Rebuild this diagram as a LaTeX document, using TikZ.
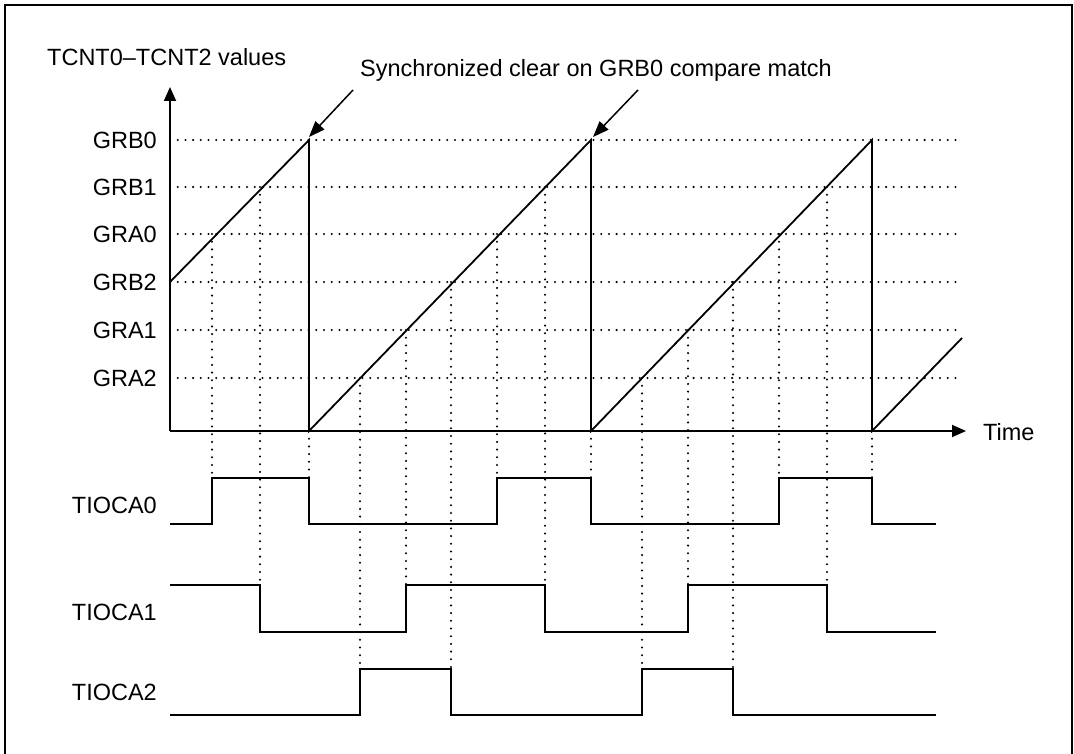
\documentclass[tikz,border=0pt]{standalone}
\usepackage{fontspec}
\setmainfont{Liberation Sans}
\usetikzlibrary{arrows.meta}
\begin{document}
\begin{tikzpicture}[x=1pt,y=-1pt,
  sig/.style={line width=1.8pt, line join=miter},
  dotline/.style={line width=2.3pt, line cap=round, dash pattern=on 0pt off 7.7pt},
  lbl/.style={anchor=east, inner sep=0pt, font=\fontsize{23.5}{27}\selectfont},
  txt/.style={inner sep=0pt, font=\fontsize{23.5}{27}\selectfont},
  axis/.style={line width=1.8pt, -{Triangle[length=14pt,width=12pt]}},
  callout/.style={line width=1.5pt, -{Triangle[length=16pt,width=12pt]}}]
\useasboundingbox (0,0) rectangle (1074,754);
% frame
\draw[line width=1.5pt] (5,754) -- (5,5) -- (1072,5) -- (1072,754);

% level dotted lines
\foreach \y in {140,187,234,282,330,378}
  \draw[dotline] (170,\y) -- (961,\y);

% vertical dotted projection lines
\foreach \x/\a/\b in {212/234/478, 260/187/585, 309/431/478, 360/378/669,
  406/330/585, 451/282/669, 497/234/478, 545/187/585, 591/431/478,
  642/378/669, 688/330/585, 733/282/669, 779/234/478, 827/187/585, 872/431/478}
  \draw[dotline] (\x,\a) -- (\x,\b);

% axes
\coordinate (O) at (170,431);
\coordinate (ytip) at (170,87);
\coordinate (xtip) at (966,431);
\draw[axis] (O) -- (ytip);
\draw[axis] (O) -- (xtip);

% labels
\node[txt, anchor=west] (ylab) at (47,57) {TCNT0--TCNT2 values};
\node[txt, anchor=west] (tlab) at (983,432) {Time};
\node[txt] (sync) at (596,70) {Synchronized clear on GRB0 compare match};
\node[lbl] (gb0) at (157,140) {GRB0};
\node[lbl] (gb1) at (157,187) {GRB1};
\node[lbl] (ga0) at (157,234) {GRA0};
\node[lbl] (gb2) at (157,282) {GRB2};
\node[lbl] (ga1) at (157,330) {GRA1};
\node[lbl] (ga2) at (157,378) {GRA2};
\node[lbl] (t0) at (157,505) {TIOCA0};
\node[lbl] (t1) at (157,612) {TIOCA1};
\node[lbl] (t2) at (157,692) {TIOCA2};

% sawtooth counter
\draw[sig] (170,282) -- (309,140) -- (309,431) -- (591,140) -- (591,431)
  -- (872,140) -- (872,431) -- (962,338);

% callout arrows
\coordinate (c1s) at (353,90);
\coordinate (c1e) at (309,137);
\coordinate (c2s) at (638,90);
\coordinate (c2e) at (593,137);
\draw[callout] (c1s) -- (c1e);
\draw[callout] (c2s) -- (c2e);

% output waveforms
\draw[sig] (170,524) -- (212,524) -- (212,478) -- (309,478) -- (309,524)
  -- (497,524) -- (497,478) -- (591,478) -- (591,524) -- (779,524)
  -- (779,478) -- (872,478) -- (872,524) -- (936,524);
\draw[sig] (170,585) -- (260,585) -- (260,632) -- (406,632) -- (406,585)
  -- (545,585) -- (545,632) -- (688,632) -- (688,585) -- (827,585)
  -- (827,632) -- (936,632);
\draw[sig] (170,715) -- (360,715) -- (360,669) -- (451,669) -- (451,715)
  -- (642,715) -- (642,669) -- (733,669) -- (733,715) -- (936,715);
\end{tikzpicture}
\end{document}
